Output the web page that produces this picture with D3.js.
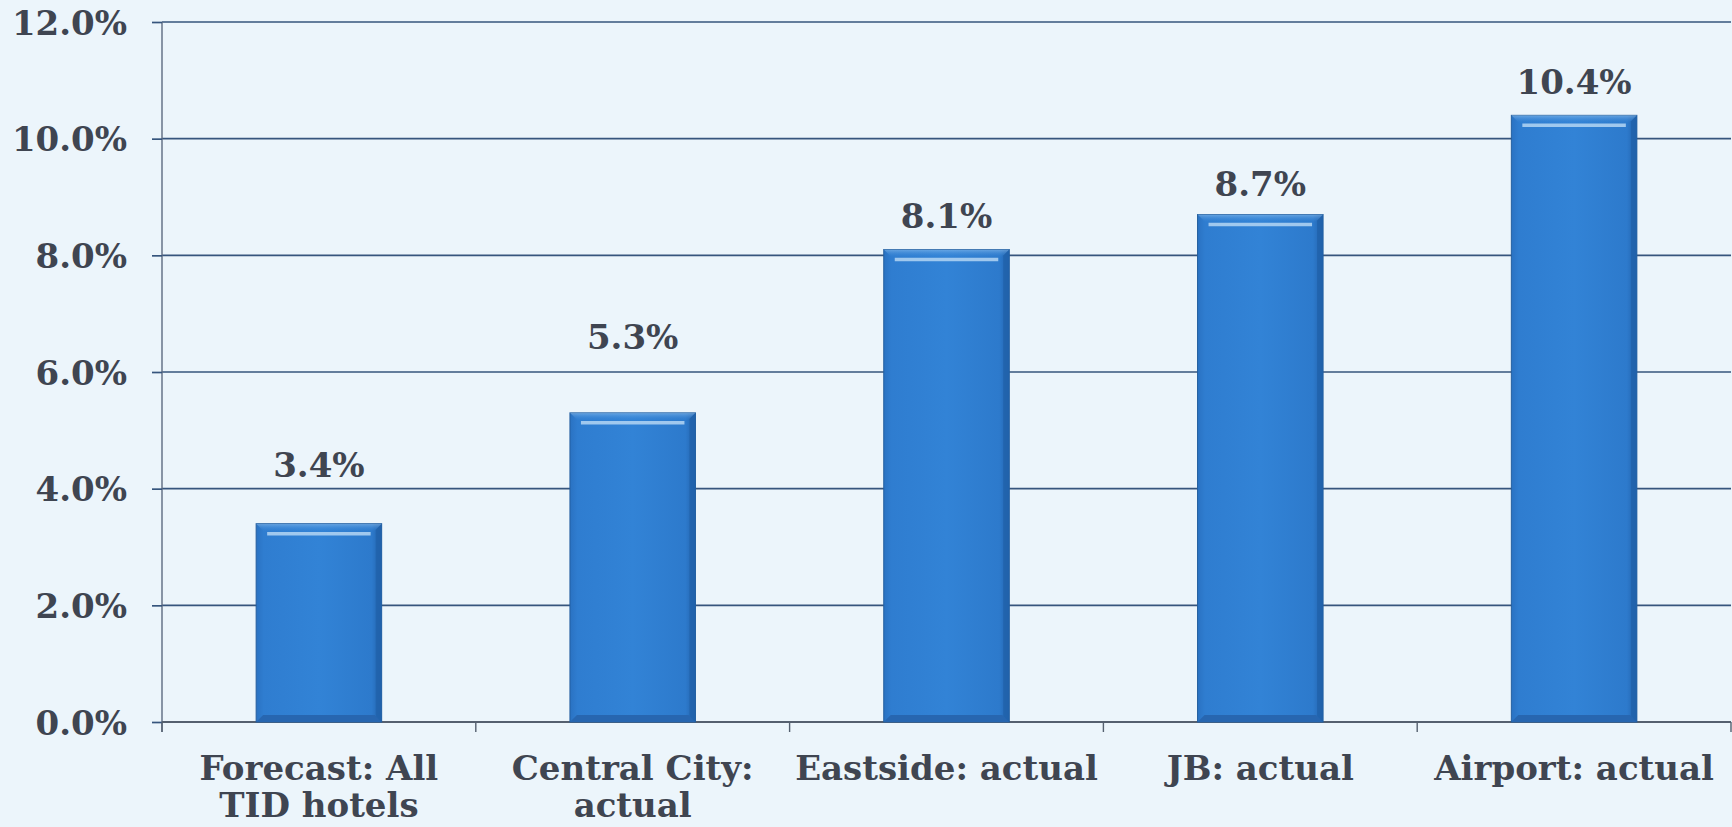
<!DOCTYPE html>
<html>
<head>
<meta charset="utf-8">
<script src="https://cdn.jsdelivr.net/npm/d3@7"></script>
<style>
  html, body { margin: 0; padding: 0; background: #ecf5fb; }
  svg { display: block; }
  text { font-family: "DejaVu Serif", "Liberation Serif", serif; font-weight: bold; fill: #3f4551; }
</style>
</head>
<body>
<svg id="chart" width="1732" height="827"></svg>
<script>
// Growth by area (percent)
const categories = ["Forecast: All\nTID hotels", "Central City:\nactual", "Eastside: actual", "JB: actual", "Airport: actual"];
const values = [3.4, 5.3, 8.1, 8.7, 10.4];
const yTicks = [0, 2, 4, 6, 8, 10, 12];

// Layout
const W = 1732, H = 827;
const plot = { left: 162, right: 1731, top: 22, bottom: 722 };
const labelGap = [47, 64, 22, 19, 21]; // distance from bar top to value label baseline

const svg = d3.select("#chart");

svg.append("rect").attr("width", W).attr("height", H).attr("fill", "#ecf5fb");

const x = d3.scaleBand()
  .domain(categories)
  .range([plot.left, plot.right])
  .paddingInner(0.6)
  .paddingOuter(0.3);

const y = d3.scaleLinear().domain([0, 12]).range([plot.bottom, plot.top]);

// Bar gradient: darker at the sides, brighter in the middle
const defs = svg.append("defs");
const grad = defs.append("linearGradient").attr("id", "barGrad")
  .attr("x1", "0%").attr("x2", "100%").attr("y1", "0%").attr("y2", "0%");
grad.append("stop").attr("offset", "0%").attr("stop-color", "#2a72c2");
grad.append("stop").attr("offset", "6%").attr("stop-color", "#2f7dd0");
grad.append("stop").attr("offset", "50%").attr("stop-color", "#3283d6");
grad.append("stop").attr("offset", "92%").attr("stop-color", "#2d7acc");
grad.append("stop").attr("offset", "100%").attr("stop-color", "#2262ac");

const hiGrad = defs.append("linearGradient").attr("id", "hiGrad")
  .attr("x1", "0%").attr("x2", "0%").attr("y1", "0%").attr("y2", "100%");
hiGrad.append("stop").attr("offset", "0%").attr("stop-color", "#a9d2f5").attr("stop-opacity", 0.95);
hiGrad.append("stop").attr("offset", "100%").attr("stop-color", "#3283d6").attr("stop-opacity", 0);

// Gridlines
svg.append("g")
  .selectAll("line")
  .data(yTicks.filter(t => t > 0))
  .join("line")
  .attr("x1", plot.left)
  .attr("x2", plot.right)
  .attr("y1", d => y(d))
  .attr("y2", d => y(d))
  .attr("stroke", "#36557d")
  .attr("stroke-width", 1.7);

// Y axis with percentage labels
const yAxis = svg.append("g")
  .attr("transform", `translate(${plot.left},0)`)
  .call(d3.axisLeft(y).tickValues(yTicks).tickSize(10).tickPadding(25)
    .tickFormat(d => d3.format(".1%")(d / 100)));
yAxis.select(".domain").attr("stroke", "#5d6b80").attr("stroke-width", 1.4)
  .attr("d", `M0,${plot.top}V${plot.bottom + 10}`);
yAxis.selectAll(".tick line").attr("stroke", "#36557d").attr("stroke-width", 1.7);
yAxis.selectAll(".tick text")
  .attr("font-size", 34)
  .attr("font-family", null)
  .attr("fill", null)
  .attr("dy", "0.36em");

// X axis baseline and category separators
const bounds = categories.map(c => x(c) - x.step() * x.paddingInner() / 2);
bounds[0] = plot.left;
bounds.push(plot.right);
svg.append("line")
  .attr("x1", plot.left).attr("x2", plot.right)
  .attr("y1", y(0)).attr("y2", y(0))
  .attr("stroke", "#55606f").attr("stroke-width", 1.8);
svg.append("g").selectAll("line")
  .data(bounds)
  .join("line")
  .attr("x1", d => d).attr("x2", d => d)
  .attr("y1", y(0)).attr("y2", y(0) + 10)
  .attr("stroke", "#55606f").attr("stroke-width", 1.4);

// Bars with a beveled look
const bars = svg.append("g").selectAll("g")
  .data(values.map((v, i) => ({ v, c: categories[i], i })))
  .join("g");

bars.append("rect")
  .attr("x", d => x(d.c))
  .attr("y", d => y(d.v))
  .attr("width", x.bandwidth())
  .attr("height", d => y(0) - y(d.v))
  .attr("fill", "url(#barGrad)")
  .attr("stroke", "#245f9f")
  .attr("stroke-width", 1);

// bottom bevel
bars.append("path")
  .attr("d", d => {
    const x0 = x(d.c), x1 = x0 + x.bandwidth(), yb = y(0), b = 7;
    return `M${x0},${yb}L${x0 + b},${yb - b}L${x1 - b},${yb - b}L${x1},${yb}Z`;
  })
  .attr("fill", "#2766b0");

// right bevel
bars.append("path")
  .attr("d", d => {
    const x1 = x(d.c) + x.bandwidth(), yt = y(d.v), yb = y(0), b = 6;
    return `M${x1},${yt}L${x1 - b},${yt + b}L${x1 - b},${yb - b}L${x1},${yb}Z`;
  })
  .attr("fill", "#2161aa")
  .attr("opacity", 0.8);

// top highlight
bars.append("path")
  .attr("d", d => {
    const x0 = x(d.c), x1 = x0 + x.bandwidth(), yt = y(d.v), b = 8;
    return `M${x0},${yt}L${x1},${yt}L${x1 - b},${yt + b}L${x0 + b},${yt + b}Z`;
  })
  .attr("fill", "url(#hiGrad)")
  .attr("opacity", 0.5);
bars.append("line")
  .attr("x1", d => x(d.c) + 11)
  .attr("x2", d => x(d.c) + x.bandwidth() - 11)
  .attr("y1", d => y(d.v) + 10)
  .attr("y2", d => y(d.v) + 10)
  .attr("stroke", "#b4d6f4")
  .attr("stroke-width", 3.5)
  .attr("opacity", 0.85);

// Value labels
bars.append("text")
  .attr("x", d => x(d.c) + x.bandwidth() / 2)
  .attr("y", d => y(d.v) - labelGap[d.i])
  .attr("text-anchor", "middle")
  .attr("font-size", 34)
  .text(d => d3.format(".1f")(d.v) + "%");

// Category labels
const catLabels = svg.append("g").selectAll("text")
  .data(categories)
  .join("text")
  .attr("text-anchor", "middle")
  .attr("font-size", 34)
  .attr("x", d => x(d) + x.bandwidth() / 2)
  .attr("y", 780);
catLabels.selectAll("tspan")
  .data(d => d.split("\n").map((t, k) => ({ t, k, c: d })))
  .join("tspan")
  .attr("x", d => x(d.c) + x.bandwidth() / 2)
  .attr("dy", d => d.k === 0 ? 0 : 37)
  .text(d => d.t);
</script>
</body>
</html>
